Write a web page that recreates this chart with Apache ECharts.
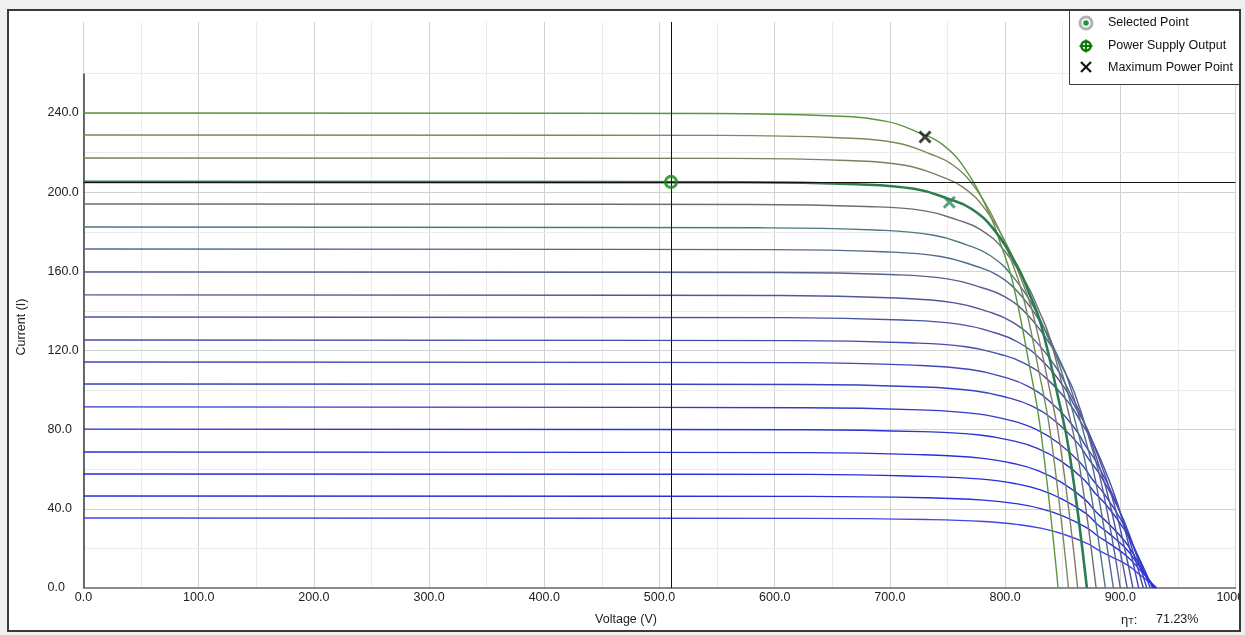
<!DOCTYPE html>
<html><head><meta charset="utf-8">
<script src="https://cdn.jsdelivr.net/npm/echarts@6/dist/echarts.min.js"></script>
<style>
html,body{margin:0;padding:0;background:#f0f0f0;width:1245px;height:635px;overflow:hidden;}
#frame{position:absolute;left:7px;top:9px;width:1234px;height:623px;box-sizing:border-box;border:2px solid #3a3a3a;background:#fff;overflow:hidden;}
#chart{position:absolute;left:-9px;top:-11px;width:1245px;height:635px;}
</style></head><body>
<div id="frame"><div id="chart"></div></div>
<script>
// I-V curves, [voltage V, current A] (top curve first)
const iv01 = [[0,240.0],[546,239.8],[646,238.6],[696,235.9],[726,229.9],[746,223.9],[766,211.2],[786,189.6],[796,174.0],[806,156.0],[821,112.8],[831,79.2],[846,0]];
const iv02 = [[0,228.9],[555,228.7],[655,227.5],[705,225.0],[735,219.3],[755,213.6],[775,201.4],[795,180.8],[805,166.0],[815,148.8],[830,107.6],[840,75.5],[855,0]];
const iv03 = [[0,217.3],[563,217.1],[663,216.0],[713,213.6],[743,208.2],[763,202.7],[783,191.2],[803,171.7],[813,157.5],[823,141.2],[838,102.1],[848,71.7],[863,0]];
const iv04 = [[0,205.2],[571,205.0],[671,204.0],[721,201.7],[751,196.6],[771,191.5],[791,180.6],[811,162.1],[821,148.8],[831,133.4],[846,96.4],[856,67.7],[871,0]];
const iv05 = [[0,194.0],[579,193.8],[679,192.8],[729,190.7],[759,185.9],[779,181.0],[799,170.7],[819,153.3],[829,140.7],[839,126.1],[854,91.2],[864,64.0],[879,0]];
const iv06 = [[0,182.4],[587,182.0],[687,180.9],[737,178.4],[767,173.3],[787,168.0],[807,157.2],[827,139.7],[837,126.9],[847,113.1],[862,81.7],[872,56.4],[887,0]];
const iv07 = [[0,171.3],[594,171.0],[694,169.9],[744,167.5],[774,162.7],[794,157.8],[814,147.7],[834,131.2],[844,119.2],[854,106.2],[869,76.7],[879,52.9],[894,0]];
const iv08 = [[0,159.7],[600,159.4],[700,158.4],[750,156.2],[780,151.7],[800,147.1],[820,137.7],[840,122.3],[850,111.2],[860,99.0],[875,71.5],[885,49.3],[900,0]];
const iv09 = [[0,148.1],[606,147.8],[706,146.5],[756,144.1],[786,139.5],[806,134.5],[826,125.0],[846,109.9],[856,98.8],[866,87.4],[881,62.9],[891,42.7],[906,0]];
const iv10 = [[0,136.9],[611,136.6],[711,135.4],[761,133.2],[791,129.0],[811,124.3],[831,115.5],[851,101.6],[861,91.3],[871,80.8],[886,58.2],[896,39.4],[911,0]];
const iv11 = [[0,125.3],[616,125.0],[716,123.9],[766,121.9],[796,118.0],[816,113.8],[836,105.8],[856,93.0],[866,83.6],[876,73.9],[891,53.3],[901,36.1],[916,0]];
const iv12 = [[0,114.2],[620,113.9],[720,112.6],[770,110.4],[800,106.4],[820,101.9],[840,93.6],[860,81.1],[870,71.7],[880,62.8],[895,45.1],[905,29.7],[920,0]];
const iv13 = [[0,103.1],[623,102.8],[723,101.7],[773,99.7],[803,96.1],[823,92.0],[843,84.5],[863,73.2],[873,64.7],[883,56.7],[898,40.7],[908,26.8],[923,0]];
const iv14 = [[0,91.5],[626,91.1],[726,90.0],[776,88.0],[806,84.5],[826,80.4],[846,73.4],[866,62.8],[876,54.7],[886,47.6],[901,34.1],[911,21.9],[926,0]];
const iv15 = [[0,80.3],[628,80.0],[728,79.0],[778,77.3],[808,74.2],[828,70.6],[848,64.4],[868,55.1],[878,48.0],[888,41.8],[903,30.0],[913,19.2],[928,0]];
const iv16 = [[0,68.7],[629,68.4],[729,67.3],[779,65.6],[809,62.7],[829,59.2],[849,53.4],[869,44.9],[879,38.4],[889,33.0],[904,23.6],[914,14.5],[929,0]];
const iv17 = [[0,57.6],[630,57.4],[730,56.4],[780,55.0],[810,52.6],[830,49.7],[850,44.8],[870,37.7],[880,32.2],[890,27.6],[905,19.8],[915,12.2],[930,0]];
const iv18 = [[0,46.5],[631,46.3],[731,45.6],[781,44.4],[811,42.5],[831,40.1],[851,36.2],[871,30.4],[881,26.0],[891,22.3],[906,15.9],[916,9.8],[931,0]];
const iv19 = [[0,35.4],[632,35.2],[732,34.6],[782,33.6],[812,32.0],[832,30.1],[852,26.9],[872,22.3],[882,18.8],[892,15.9],[907,11.3],[917,6.7],[932,0]];

const selectedCurveIndex = 3;            // iv04
const selectedPoint = [[510, 205.2]];    // Power supply output / selected point
const mppTop = [[730.5, 227.9]];         // maximum power point (black)
const mppSelected = [[751.6, 194.9]];    // maximum power point on selected curve
const xLabelValues = [0,100,200,300,400,500,600,700,800,900,1000];
const yLabelValues = [0,40,80,120,160,200,240];
const yGridValues = [20,40,60,80,100,120,140,160,180,200,220,240,260];
const efficiencyText = '71.23%';

const curves = [iv01,iv02,iv03,iv04,iv05,iv06,iv07,iv08,iv09,iv10,iv11,iv12,iv13,iv14,iv15,iv16,iv17,iv18,iv19];
const curveColors = ['#5a963c','#7a8a5a','#847c60','#2b7d4e','#6e6e72','#4c7882','#536a88','#575f90','#505898','#4a52a2','#454cae','#4046b8','#3a40c2','#3439ca','#2e33d2','#2a2fd8','#282cde','#2a2ee2','#4444e8'];

const FONT = 'Liberation Sans';
const series = [];
series.push({
  type:'line', data:[[0,0]], showSymbol:false, silent:true, z:0,
  lineStyle:{width:0},
  markLine:{silent:true, z:0, symbol:'none', label:{show:false}, animation:false,
    data: yGridValues.map(v => ({yAxis:v, lineStyle:{color: v % 40 === 0 ? '#d2d2d2' : '#ebebeb', width:1, type:'solid'}}))
      .concat([[{coord:[0,0], lineStyle:{color:'#3c3c3c', width:1.5, type:'solid'}},{coord:[0,260]}]])
  }
});
for (let k = curves.length - 1; k >= 0; k--) {
  if (k === selectedCurveIndex) continue;
  series.push({type:'line', data:curves[k], smooth:0.45, showSymbol:false, silent:true, z:2,
    lineStyle:{color:curveColors[k], width:1.4}});
}
series.push({type:'line', data:curves[selectedCurveIndex], smooth:0.45, showSymbol:false, silent:true, z:3,
  lineStyle:{color:curveColors[selectedCurveIndex], width:2.6}});
series.push({
  type:'line', data:[[0,0]], showSymbol:false, silent:true, z:4, lineStyle:{width:0},
  markLine:{silent:true, z:4, symbol:'none', label:{show:false}, animation:false,
    lineStyle:{color:'#111', width:1, type:'solid'},
    data:[{xAxis:selectedPoint[0][0]},{yAxis:selectedPoint[0][1]}]}
});
const xPath = 'path://M0,1.6L1.6,0L5,3.4L8.4,0L10,1.6L6.6,5L10,8.4L8.4,10L5,6.6L1.6,10L0,8.4L3.4,5Z';
series.push({type:'scatter', data:mppTop, symbol:xPath, symbolSize:13, z:5, silent:true, itemStyle:{color:'#111'}});
series.push({type:'scatter', data:mppSelected, symbol:xPath, symbolSize:13, z:5, silent:true, itemStyle:{color:'#2f8a5c'}});
series.push({type:'scatter', data:selectedPoint, symbol:'circle', symbolSize:11, z:6, silent:true,
  itemStyle:{color:'rgba(255,255,255,0)', borderColor:'#108a10', borderWidth:3.2}});

const chart = echarts.init(document.getElementById('chart'), null, {renderer:'canvas'});
chart.setOption({
  animation:false,
  backgroundColor:'#ffffff',
  textStyle:{fontFamily:FONT},
  grid:{left:83.5, right:9.5, top:22, bottom:47, containLabel:false, outerBoundsMode:'none'},
  xAxis:{type:'value', min:0, max:1000, interval:50,
    axisLine:{show:true, onZero:false, lineStyle:{color:'#666', width:1.6}},
    axisTick:{show:false},
    axisLabel:{formatter:v => xLabelValues.includes(v) ? v.toFixed(1) : '', color:'#222', fontSize:12.5, fontFamily:FONT, margin:3, showMaxLabel:true, showMinLabel:true, hideOverlap:false},
    splitLine:{show:true, lineStyle:{color:['#d2d2d2','#ebebeb'], width:1}}},
  yAxis:{type:'value', min:0, max:286, interval:20,
    axisLine:{show:false}, axisTick:{show:false}, splitLine:{show:false},
    axisLabel:{formatter:v => yLabelValues.includes(v) ? v.toFixed(1) : '', color:'#222', fontSize:12.5, fontFamily:FONT, align:'left', margin:36, showMaxLabel:false}},
  series: series,
  graphic:[
    {type:'text', x:626, y:620, z:50, style:{text:'Voltage (V)', fill:'#222', font:'12.5px "Liberation Sans"', align:'center', verticalAlign:'middle'}},
    {type:'text', x:22, y:327, rotation:Math.PI/2, z:50, style:{text:'Current (I)', fill:'#222', font:'12.5px "Liberation Sans"', align:'center', verticalAlign:'middle'}},
    {type:'text', x:1121, y:620, z:50, style:{text:'{a|η}{b|T}{a|:}', align:'left', verticalAlign:'middle', rich:{a:{fontSize:13, fontFamily:FONT, fill:'#222'}, b:{fontSize:9, fontFamily:FONT, fill:'#222', padding:[4,0,0,0]}}}},
    {type:'text', x:1156, y:620, z:50, style:{text:efficiencyText, fill:'#222', font:'12.5px "Liberation Sans"', align:'left', verticalAlign:'middle'}},
    {type:'rect', z:60, shape:{x:1069.5, y:9.5, width:190, height:75}, style:{fill:'#fff', stroke:'#3a3a3a', lineWidth:1}},
    {type:'circle', z:61, shape:{cx:1086, cy:23, r:6}, style:{fill:'#fff', stroke:'#b2b2b2', lineWidth:3}},
    {type:'circle', z:62, shape:{cx:1086, cy:23, r:2.8}, style:{fill:'#1f9a34'}},
    {type:'circle', z:61, shape:{cx:1086, cy:46, r:4.6}, style:{fill:'none', stroke:'#0d7a0d', lineWidth:2.6}},
    {type:'line', z:62, shape:{x1:1079.5, y1:46, x2:1092.5, y2:46}, style:{stroke:'#0d7a0d', lineWidth:2}},
    {type:'line', z:62, shape:{x1:1086, y1:39.5, x2:1086, y2:52.5}, style:{stroke:'#0d7a0d', lineWidth:2}},
    {type:'line', z:61, shape:{x1:1081, y1:62, x2:1091, y2:72}, style:{stroke:'#111', lineWidth:2.2}},
    {type:'line', z:61, shape:{x1:1091, y1:62, x2:1081, y2:72}, style:{stroke:'#111', lineWidth:2.2}},
    {type:'text', x:1108, y:23, z:62, style:{text:'Selected Point', fill:'#111', font:'12.5px "Liberation Sans"', verticalAlign:'middle'}},
    {type:'text', x:1108, y:46, z:62, style:{text:'Power Supply Output', fill:'#111', font:'12.5px "Liberation Sans"', verticalAlign:'middle'}},
    {type:'text', x:1108, y:68, z:62, style:{text:'Maximum Power Point', fill:'#111', font:'12.5px "Liberation Sans"', verticalAlign:'middle'}}
  ]
});
</script>
</body></html>
